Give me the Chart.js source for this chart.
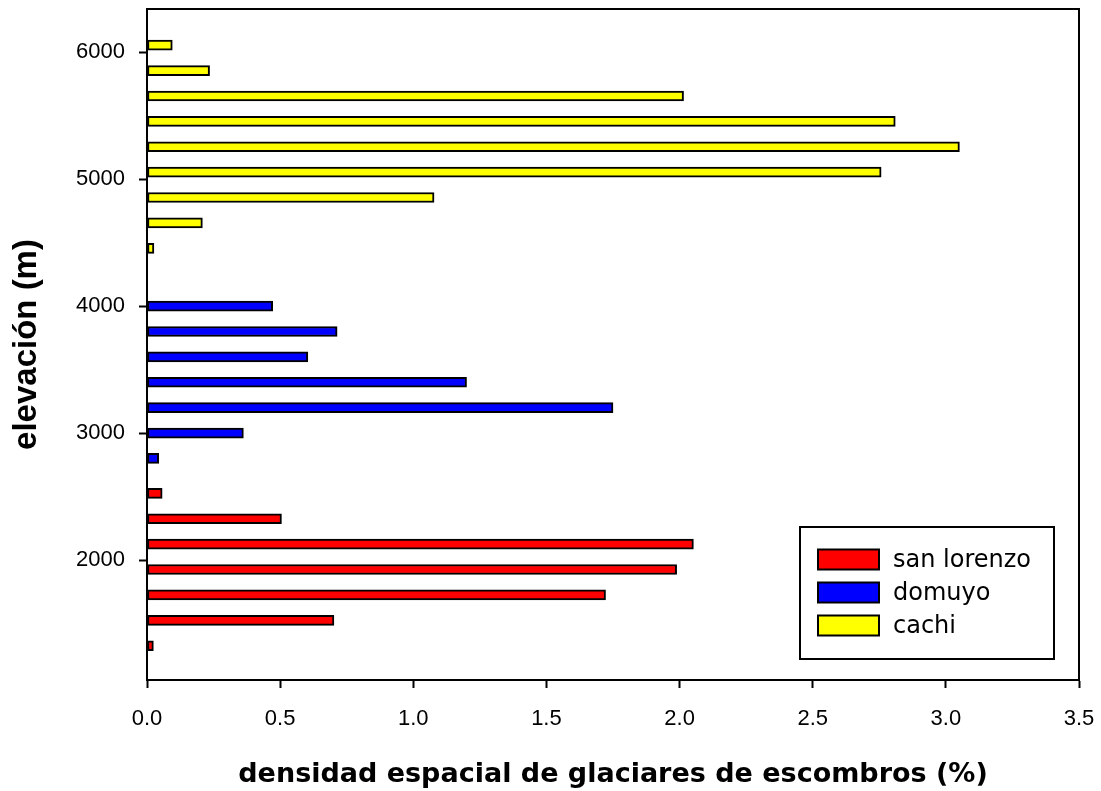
<!DOCTYPE html>
<html>
<head>
<meta charset="utf-8">
<script src="https://cdn.jsdelivr.net/npm/chart.js@4.4.1/dist/chart.umd.min.js"></script>
<style>
  html, body { margin: 0; padding: 0; background: #fff; }
  canvas { display: block; }
</style>
</head>
<body>
<canvas id="chart" width="1101" height="791"></canvas>
<script>
// Rock glacier spatial density (%) by elevation band (m) for three areas
const seriesNames = ['san lorenzo', 'domuyo', 'cachi'];
const seriesColors = ['#ff0000', '#0000ff', '#ffff00'];

const sanLorenzoElevation = [1325, 1525, 1725, 1925, 2125, 2325, 2525];
const sanLorenzoDensity   = [0.024, 0.702, 1.722, 1.989, 2.052, 0.505, 0.057];

const domuyoElevation = [2800, 3000, 3200, 3400, 3600, 3800, 4000];
const domuyoDensity   = [0.044, 0.362, 1.75, 1.2, 0.604, 0.714, 0.472];

const cachiElevation = [4455, 4655, 4855, 5055, 5255, 5455, 5655, 5855, 6055];
const cachiDensity   = [0.026, 0.208, 1.078, 2.757, 3.051, 2.81, 2.015, 0.235, 0.095];

const elevationTicks = [2000, 3000, 4000, 5000, 6000];
const densityTicks = [0, 0.5, 1, 1.5, 2, 2.5, 3, 3.5];

const toPoints = (elev, dens) => elev.map((e, i) => ({ x: dens[i], y: e }));

const barStyle = {
  barThickness: 10,
  borderWidth: 2,
  borderColor: '#000',
  borderSkipped: false,
  grouped: false
};

// Black frame around the plotting area
const plotFrame = {
  id: 'plotFrame',
  afterDraw(chart) {
    const { ctx, chartArea: a } = chart;
    ctx.save();
    ctx.strokeStyle = '#000';
    ctx.lineWidth = 2;
    ctx.strokeRect(Math.round(a.left), Math.round(a.top), Math.round(a.right - a.left), Math.round(a.bottom - a.top));
    ctx.restore();
  }
};

// Boxed legend in the lower right corner of the plotting area
const boxedLegend = {
  id: 'boxedLegend',
  afterDraw(chart, args, o) {
    const { ctx, chartArea } = chart;
    const right = chartArea.right - o.offsetRight;
    const bottom = chartArea.bottom - o.offsetBottom;
    const left = right - o.width;
    const top = bottom - o.height;
    ctx.save();
    ctx.fillStyle = '#fff';
    ctx.fillRect(left, top, o.width, o.height);
    ctx.strokeStyle = '#000';
    ctx.lineWidth = 2;
    ctx.strokeRect(left, top, o.width, o.height);
    ctx.font = o.font;
    ctx.textBaseline = 'middle';
    ctx.textAlign = 'left';
    chart.data.datasets.forEach((ds, i) => {
      const cy = top + o.firstRow + i * o.rowGap;
      const sx = left + o.swatchLeft;
      ctx.fillStyle = ds.backgroundColor;
      ctx.fillRect(sx, cy - o.swatchH / 2, o.swatchW, o.swatchH);
      ctx.lineWidth = 2;
      ctx.strokeRect(sx, cy - o.swatchH / 2, o.swatchW, o.swatchH);
      ctx.fillStyle = '#000';
      ctx.fillText(ds.label, sx + o.swatchW + o.textGap, cy + 1);
    });
    ctx.restore();
  }
};

new Chart(document.getElementById('chart'), {
  type: 'bar',
  data: {
    datasets: [
      { label: seriesNames[0], data: toPoints(sanLorenzoElevation, sanLorenzoDensity), backgroundColor: seriesColors[0], ...barStyle },
      { label: seriesNames[1], data: toPoints(domuyoElevation, domuyoDensity), backgroundColor: seriesColors[1], ...barStyle },
      { label: seriesNames[2], data: toPoints(cachiElevation, cachiDensity), backgroundColor: seriesColors[2], ...barStyle }
    ]
  },
  options: {
    indexAxis: 'y',
    responsive: false,
    animation: false,
    layout: { padding: { top: 9, right: 22, left: 0, bottom: 0 } },
    plugins: {
      legend: { display: false },
      tooltip: { enabled: false },
      boxedLegend: {
        offsetRight: 25, offsetBottom: 21, width: 254, height: 132,
        firstRow: 32.5, rowGap: 33, swatchLeft: 18, swatchW: 61, swatchH: 20, textGap: 14,
        font: '24px "DejaVu Sans"'
      }
    },
    scales: {
      x: {
        type: 'linear',
        position: 'bottom',
        min: 0,
        max: 3.5,
        offset: false,
        afterBuildTicks: s => { s.ticks = densityTicks.map(v => ({ value: v })); },
        afterFit: s => { s.height = 111; s.paddingLeft = 0; s.paddingRight = 0; },
        grid: { offset: false, drawOnChartArea: false, drawTicks: true, tickLength: 8, tickWidth: 2, tickColor: '#000' },
        border: { display: true, color: '#000', width: 2 },
        ticks: {
          color: '#000',
          font: { family: 'Liberation Sans', size: 22 },
          padding: 18,
          maxRotation: 0,
          autoSkip: false,
          callback: v => Number(v).toFixed(1)
        },
        title: {
          display: true,
          text: 'densidad espacial de glaciares de escombros (%)',
          color: '#000',
          font: { family: 'DejaVu Sans', size: 27, weight: 'bold' },
          padding: { top: 0, bottom: 0 }
        }
      },
      y: {
        type: 'linear',
        position: 'left',
        min: 1055,
        max: 6340,
        offset: false,
        afterBuildTicks: s => { s.ticks = elevationTicks.map(v => ({ value: v })); },
        afterFit: s => { s.width = 147; s.paddingTop = 0; s.paddingBottom = 0; },
        grid: { offset: false, drawOnChartArea: false, drawTicks: true, tickLength: 8, tickWidth: 2, tickColor: '#000' },
        border: { display: true, color: '#000', width: 2 },
        ticks: {
          color: '#000',
          font: { family: 'Liberation Sans', size: 22 },
          padding: 14,
          autoSkip: false,
          callback: v => String(v)
        },
        title: {
          display: true,
          text: 'elevación (m)',
          color: '#000',
          font: { family: 'Liberation Sans', size: 33, weight: 'bold' },
          padding: { top: 7, bottom: 0 }
        }
      }
    }
  },
  plugins: [plotFrame, boxedLegend]
});
</script>
</body>
</html>
